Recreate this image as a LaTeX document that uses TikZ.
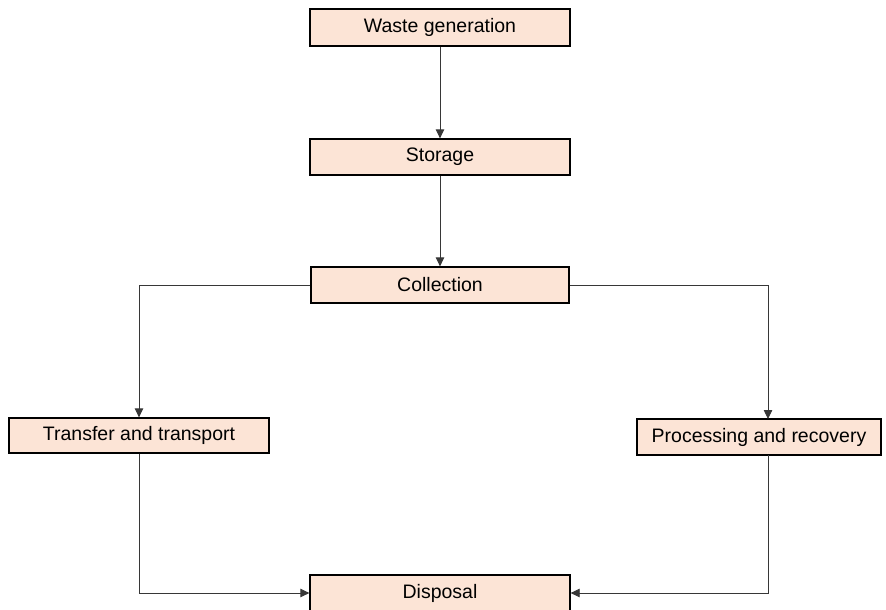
\documentclass[tikz,border=0pt]{standalone}
\usepackage{fontspec}
\setmainfont{Liberation Sans}
\usetikzlibrary{arrows.meta,calc}
\definecolor{boxfill}{RGB}{252,228,214}
\definecolor{linegray}{RGB}{55,55,55}
\tikzset{
    stagebox/.style = {draw=black, line width=1.3pt, fill=boxfill, inner sep=0pt,
                       minimum width=260pt, minimum height=36pt,
                       font=\fontsize{19.5}{22}\selectfont},
    conn/.style = {draw=linegray, line width=0.8pt, -{Triangle[length=9pt,width=8.5pt]}}
}

\begin{document}
\begin{tikzpicture}[x=1pt,y=-1pt]
                \useasboundingbox (0,0) rectangle (886,610);

                %% stages
                \node[stagebox, minimum height=37pt] (gen) at (440,27.5) {Waste generation};
                \node[stagebox] (stor) at (440,157) {Storage};
                \node[stagebox, minimum width=258pt] (coll) at (440,285) {Collection};
                \node[stagebox, minimum height=35pt] (trans) at (139,435.5) {Transfer and transport};
                \node[stagebox, minimum width=244pt] (proc) at (759,437) {Processing and recovery};
                \node[stagebox] (disp) at (440,593) {Disposal};

                %% off-centre ends on the right branch
                \coordinate (proctop) at (768,419);
                \coordinate (procbot) at (768,455);

                %% connectors
                \draw[conn] (gen) -- (stor);
                \draw[conn] (stor) -- (coll);
                \draw[conn] (coll.west) -| (trans.north);
                \draw[conn] (coll.east) -| (proctop);
                \draw[conn] (trans.south) |- (disp.west);
                \draw[conn] (procbot) |- (disp.east);

            \end{tikzpicture}
\end{document}
